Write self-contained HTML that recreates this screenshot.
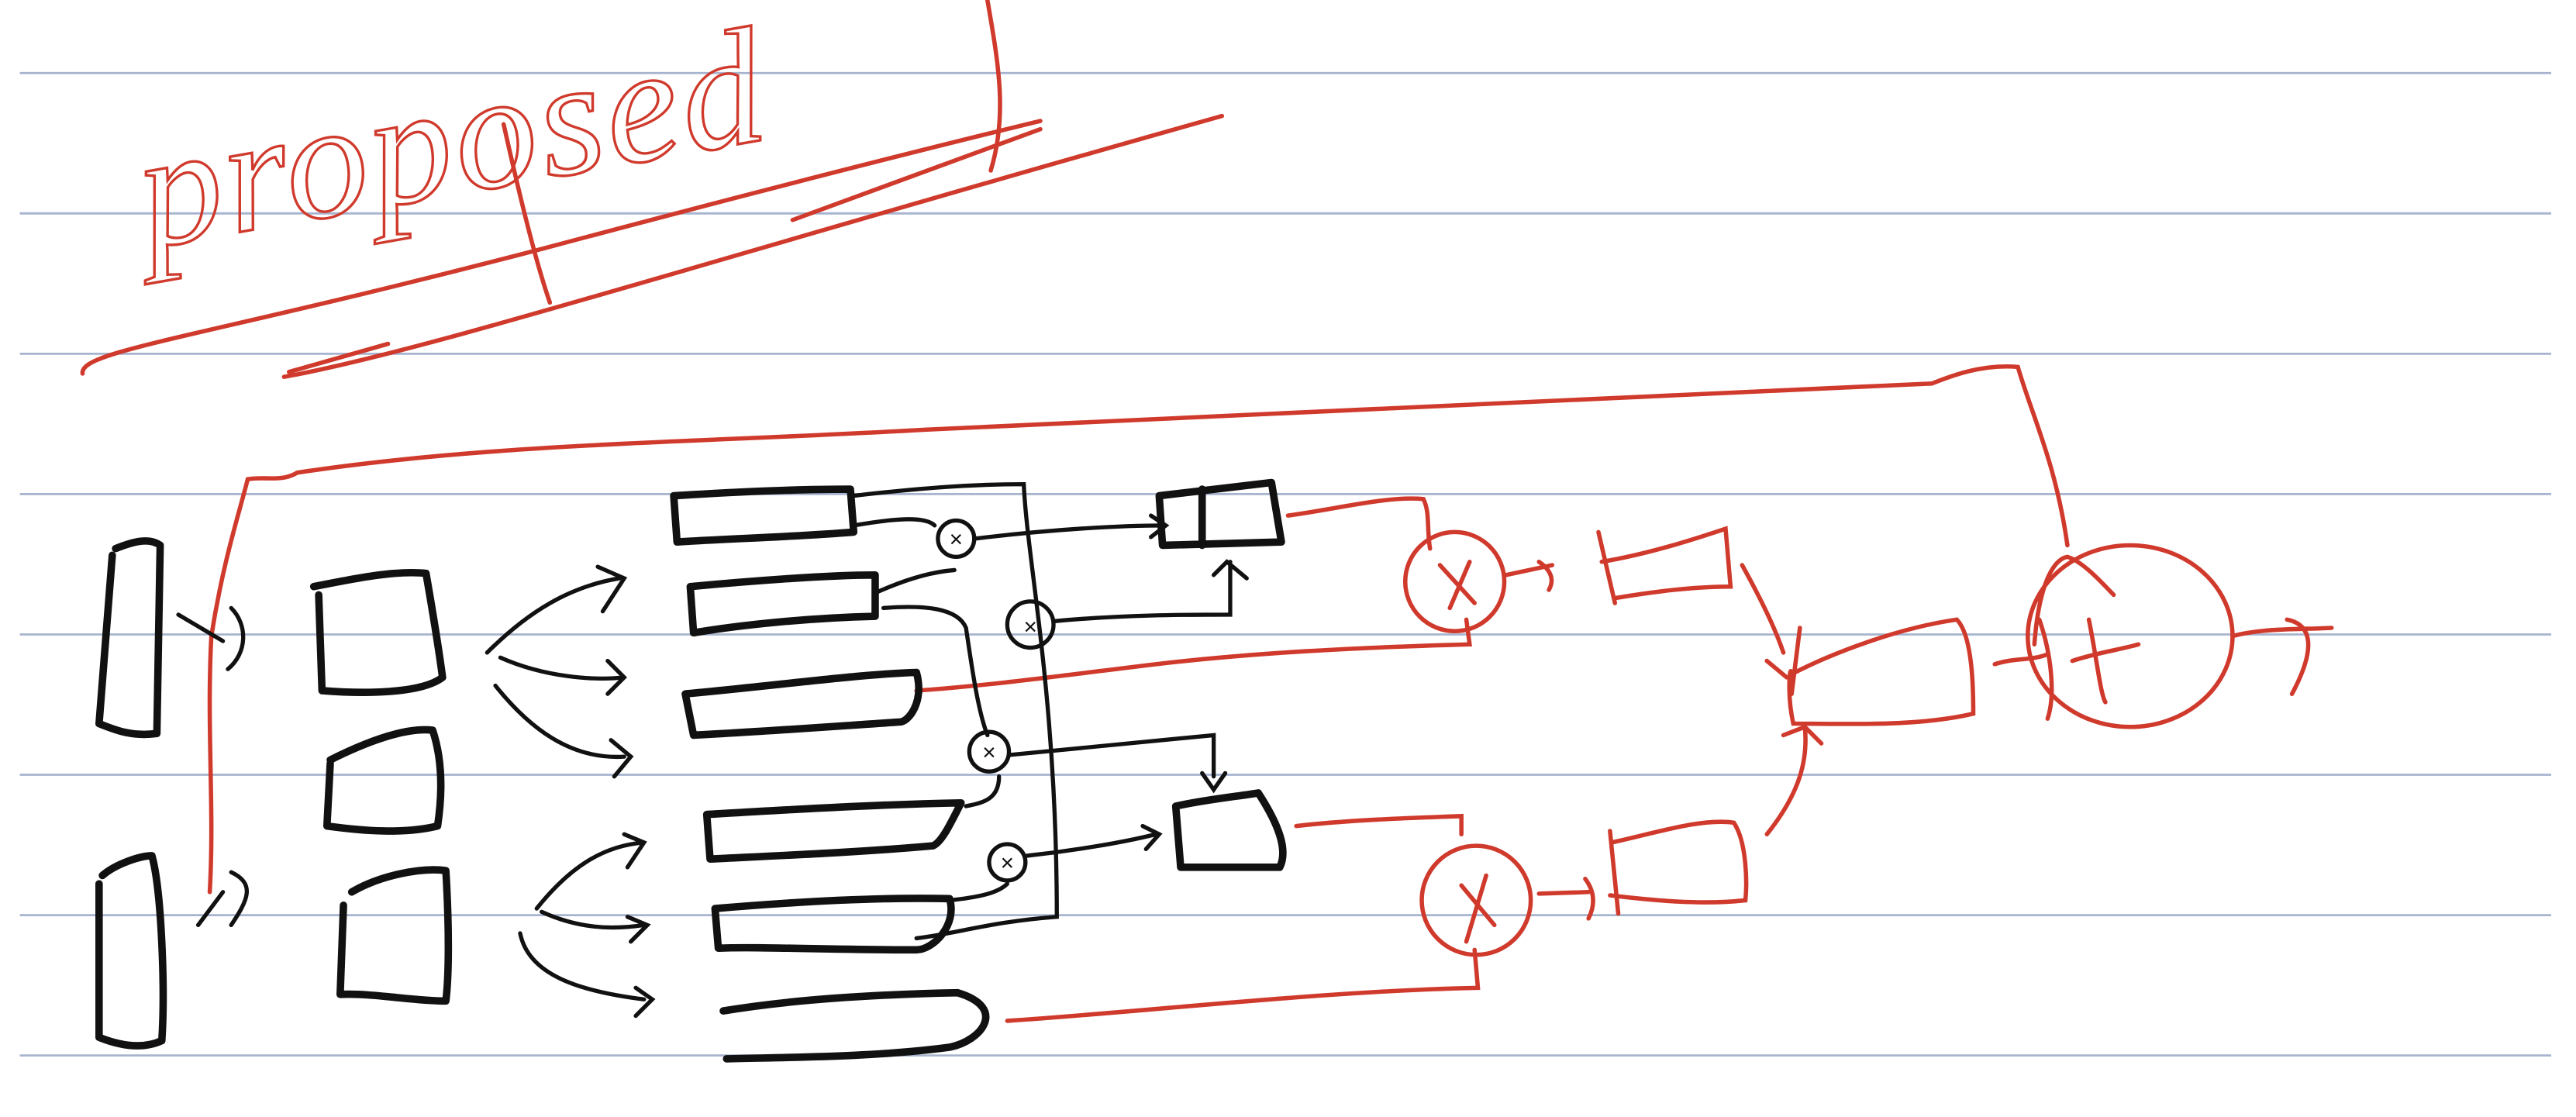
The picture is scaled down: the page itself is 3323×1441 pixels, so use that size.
<!DOCTYPE html>
<html><head><meta charset="utf-8"><style>
html,body{margin:0;padding:0;background:#fff;width:3323px;height:1441px;overflow:hidden}
svg{display:block}
</style></head><body>
<svg width="3323" height="1441" viewBox="0 0 1560 676" xmlns="http://www.w3.org/2000/svg">
<g stroke="#a7b4cf" stroke-width="1.3">
<line x1="12" y1="44" x2="1545" y2="44"/><line x1="12" y1="129" x2="1545" y2="129"/>
<line x1="12" y1="214" x2="1545" y2="214"/><line x1="12" y1="299" x2="1545" y2="299"/>
<line x1="12" y1="384" x2="1545" y2="384"/><line x1="12" y1="469" x2="1545" y2="469"/>
<line x1="12" y1="554" x2="1545" y2="554"/><line x1="12" y1="639" x2="1545" y2="639"/>
</g>
<!-- title -->
<text x="90" y="150" font-family="Liberation Serif, serif" font-style="italic" font-size="100" fill="none" stroke="#d03a2c" stroke-width="1.6" letter-spacing="2" transform="rotate(-10 90 150)">proposed</text>
<g fill="none" stroke="#d03a2c" stroke-width="2.6" stroke-linecap="round">
<path d="M50 226 C48 212 120 205 330 150 C450 118 560 90 630 73"/>
<path d="M172 228 C260 212 420 160 740 70"/>
<path d="M175 225 L235 208"/>
<path d="M480 133 L630 78"/>
<path d="M598 0 C605 40 610 70 600 103"/>
<path d="M305 75 C315 120 325 160 333 183"/>
<path d="M128 385 C135 340 145 310 150 290 C160 288 170 292 180 286 C300 268 420 268 560 260 C800 250 1000 240 1170 232 C1180 228 1200 220 1222 222 C1230 250 1245 280 1252 330"/>
<path d="M128 385 C125 440 130 490 127 540"/>
<path d="M780 312 C810 308 840 300 862 302 C866 310 864 320 866 332"/>
<path d="M555 418 C600 415 650 408 700 402 C760 395 820 392 890 390 L888 375"/>
<circle cx="881" cy="352" r="30"/>
<path d="M872 342 L893 365 M890 340 L878 368"/>
<path d="M912 348 L940 342 M932 340 C938 344 942 350 938 357"/>
<path d="M968 322 L978 365"/><path d="M970 340 C1000 335 1030 325 1045 320 L1048 355 C1020 355 990 360 978 362"/>
<path d="M1055 342 C1065 360 1075 380 1080 395"/>
<path d="M1085 408 C1110 395 1150 380 1185 375 C1195 385 1195 420 1195 432 C1160 440 1120 438 1086 438 C1082 420 1084 400 1085 408"/>
<path d="M1070 400 L1082 410 M1090 380 L1085 420"/>
<path d="M1070 505 C1090 480 1095 460 1093 440 M1080 445 L1093 440 L1103 450"/>
<path d="M785 500 C820 496 860 495 885 494 L885 505"/>
<path d="M610 618 C700 612 800 600 895 598 L893 575"/>
<circle cx="894" cy="545" r="33"/>
<path d="M885 536 L905 560 M900 530 L888 570"/>
<path d="M932 541 L962 540 M960 532 C966 540 966 548 962 556"/>
<path d="M975 503 L980 553"/><path d="M976 510 C1000 505 1030 495 1050 498 C1058 510 1058 535 1057 545 C1030 548 1000 545 975 542"/>
<ellipse cx="1290" cy="385" rx="62" ry="55"/>
<path d="M1232 390 C1235 350 1245 338 1252 337 C1262 340 1275 355 1280 360"/>
<path d="M1235 375 C1242 395 1245 420 1240 435 M1265 375 C1270 400 1272 420 1275 425 M1255 400 C1270 395 1285 393 1295 390"/>
<path d="M1208 402 C1220 398 1230 400 1240 396"/>
<path d="M1352 385 C1370 380 1395 381 1412 380 M1385 375 C1400 378 1403 392 1388 420"/>
</g>
<g fill="none" stroke="#111" stroke-width="4.5" stroke-linecap="round" stroke-linejoin="round">
<path d="M68 336 L60 438 C70 442 80 446 95 444 L97 330 C90 325 80 328 70 332"/>
<path d="M62 530 C70 523 85 518 92 518 C98 540 100 600 98 630 C85 636 70 632 60 628 L60 535"/>
<path d="M190 355 C215 350 240 345 258 347 C262 370 266 395 268 410 C255 420 220 420 195 418 L193 360"/>
<path d="M200 460 C220 450 245 440 262 442 C268 460 268 480 265 500 C245 505 220 503 198 500 L200 462"/>
<path d="M213 540 C230 530 255 525 270 527 C272 560 272 590 270 606 C250 606 225 601 206 602 L208 548"/>
<path d="M408 300 C440 298 480 296 515 296 L517 322 C480 325 440 326 410 328 Z"/>
<path d="M418 355 C450 352 500 348 530 348 L530 373 C490 374 450 378 420 383 Z"/>
<path d="M415 420 C470 415 520 408 555 407 C560 425 550 437 545 437 C500 440 460 443 420 445 Z"/>
<path d="M428 493 C480 490 530 487 582 486 C575 500 570 510 565 512 C520 516 470 518 430 520 Z"/>
<path d="M433 550 C480 546 530 543 575 544 C580 560 565 575 555 575 C500 575 460 573 435 574 Z"/>
<path d="M438 612 C480 605 530 602 580 601 C610 610 595 630 575 634 C530 640 480 640 440 641"/>
<path d="M702 300 L770 292 L776 328 L704 330 Z M728 296 L728 330"/>
<path d="M712 488 C730 484 750 482 762 480 C775 500 780 515 775 525 L715 525 Z"/>
</g>
<g fill="none" stroke="#111" stroke-width="2.5" stroke-linecap="round">
<path d="M108 372 L135 388 M140 368 C150 378 150 395 138 405"/>
<path d="M120 560 L135 540 M140 528 C155 535 150 545 140 560"/>
<path d="M295 395 C320 370 345 355 375 350 M362 343 L378 350 L365 370"/>
<path d="M303 398 C330 410 360 412 378 410 M368 400 L378 410 L368 420"/>
<path d="M300 415 C320 440 345 460 378 458 M370 448 L382 458 L372 470"/>
<path d="M325 550 C345 525 365 512 390 510 M378 505 L390 510 L380 525"/>
<path d="M328 552 C350 562 370 563 390 560 M380 555 L392 560 L382 570"/>
<path d="M315 565 C320 590 350 600 390 605 M385 598 L395 605 L385 615"/>
<path d="M517 300 C560 295 590 293 620 293 C622 340 640 420 640 555 C600 558 580 565 555 568"/>
<path d="M517 318 C540 314 560 312 566 318"/>
<circle cx="579" cy="326" r="11"/>
<path d="M590 326 C640 320 680 318 706 318 M697 312 L706 318 L697 325"/>
<path d="M532 358 C550 350 565 346 578 345"/>
<circle cx="624" cy="378" r="14"/>
<path d="M535 368 C560 366 580 368 585 380 C588 400 592 430 598 445"/>
<circle cx="599" cy="455" r="12"/>
<path d="M611 457 C660 452 700 448 735 445 L735 470 M728 468 L735 478 L742 468"/>
<path d="M638 376 C680 372 720 372 745 372 L745 340 M735 348 L743 340 L755 350"/>
<path d="M585 488 C595 486 605 484 605 470"/>
<circle cx="610" cy="522" r="11"/>
<path d="M622 518 C650 515 680 510 700 505 M692 500 L702 505 L694 514"/>
<path d="M575 545 C595 543 605 540 610 535"/>
</g>
<g font-family="Liberation Sans, sans-serif" font-size="14" fill="#111" text-anchor="middle">
<text x="579" y="331">×</text><text x="624" y="384">×</text><text x="599" y="460">×</text><text x="610" y="527">×</text>
</g>
</svg>
</body></html>
